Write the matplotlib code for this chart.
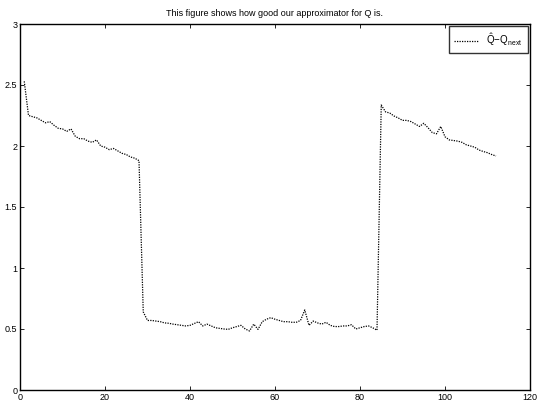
import matplotlib
matplotlib.use("Agg")
import matplotlib.pyplot as plt

title = "This figure shows how good our approximator for Q is."
legend_label = r"$\hat{\mathrm{Q}}\!-\!\mathrm{Q}_{\mathrm{next}}$"

values = [
    2.53, 2.25, 2.24, 2.23, 2.21, 2.19, 2.20, 2.17, 2.145, 2.14,
    2.12, 2.14, 2.08, 2.06, 2.06, 2.04, 2.03, 2.05, 2.00, 1.99,
    1.97, 1.98, 1.96, 1.94, 1.93, 1.91, 1.90, 1.88, 0.64, 0.57,
    0.57, 0.565, 0.56, 0.55, 0.547, 0.54, 0.535, 0.53, 0.525, 0.53,
    0.545, 0.56, 0.525, 0.54, 0.525, 0.51, 0.505, 0.50, 0.497, 0.51,
    0.52, 0.53, 0.50, 0.484, 0.54, 0.497, 0.56, 0.58, 0.593, 0.58,
    0.57, 0.56, 0.56, 0.555, 0.555, 0.57, 0.656, 0.53, 0.565, 0.55,
    0.54, 0.555, 0.53, 0.52, 0.52, 0.525, 0.525, 0.535, 0.50, 0.51,
    0.52, 0.525, 0.51, 0.49, 2.336, 2.28, 2.27, 2.246, 2.23, 2.21,
    2.21, 2.20, 2.18, 2.16, 2.186, 2.15, 2.11, 2.10, 2.16, 2.076,
    2.05, 2.045, 2.04, 2.03, 2.01, 2.00, 1.99, 1.967, 1.955, 1.945,
    1.93, 1.918,
]
x = list(range(1, len(values) + 1))

xticks = [0, 20, 40, 60, 80, 100, 120]
yticks = [0, 0.5, 1, 1.5, 2, 2.5, 3]
yticklabels = ["0", "0.5", "1", "1.5", "2", "2.5", "3"]

plt.rcParams['font.family'] = ['Liberation Sans', 'DejaVu Sans']
plt.rcParams['mathtext.fontset'] = 'custom'
plt.rcParams['mathtext.rm'] = 'Liberation Sans'
fig = plt.figure(figsize=(5.37, 4.03), dpi=100)
ax = fig.add_axes([20/537, 13/403, 510/537, 366/403])
ax.plot(x, values, color='black', linestyle=(0, (1, 1)), linewidth=0.9,
        label=legend_label)
ax.set_xlim(0, 120)
ax.set_ylim(0, 3)
ax.set_xticks(xticks)
ax.set_yticks(yticks)
ax.set_yticklabels(yticklabels)
ax.tick_params(direction='in', length=3, width=0.6, labelsize=6.5, pad=2,
               top=True, right=True)
for s in ax.spines.values():
    s.set_linewidth(1.0)
    s.set_color('black')
ax.set_title(title, fontsize=6.5, pad=6)
leg = ax.legend(loc='upper right', fontsize=7, frameon=True, fancybox=False,
                handlelength=2.5, borderpad=0.5, borderaxespad=0.25)
leg.get_frame().set_edgecolor('black')
leg.get_frame().set_linewidth(1.0)
fig.savefig("out.png", dpi=100)
